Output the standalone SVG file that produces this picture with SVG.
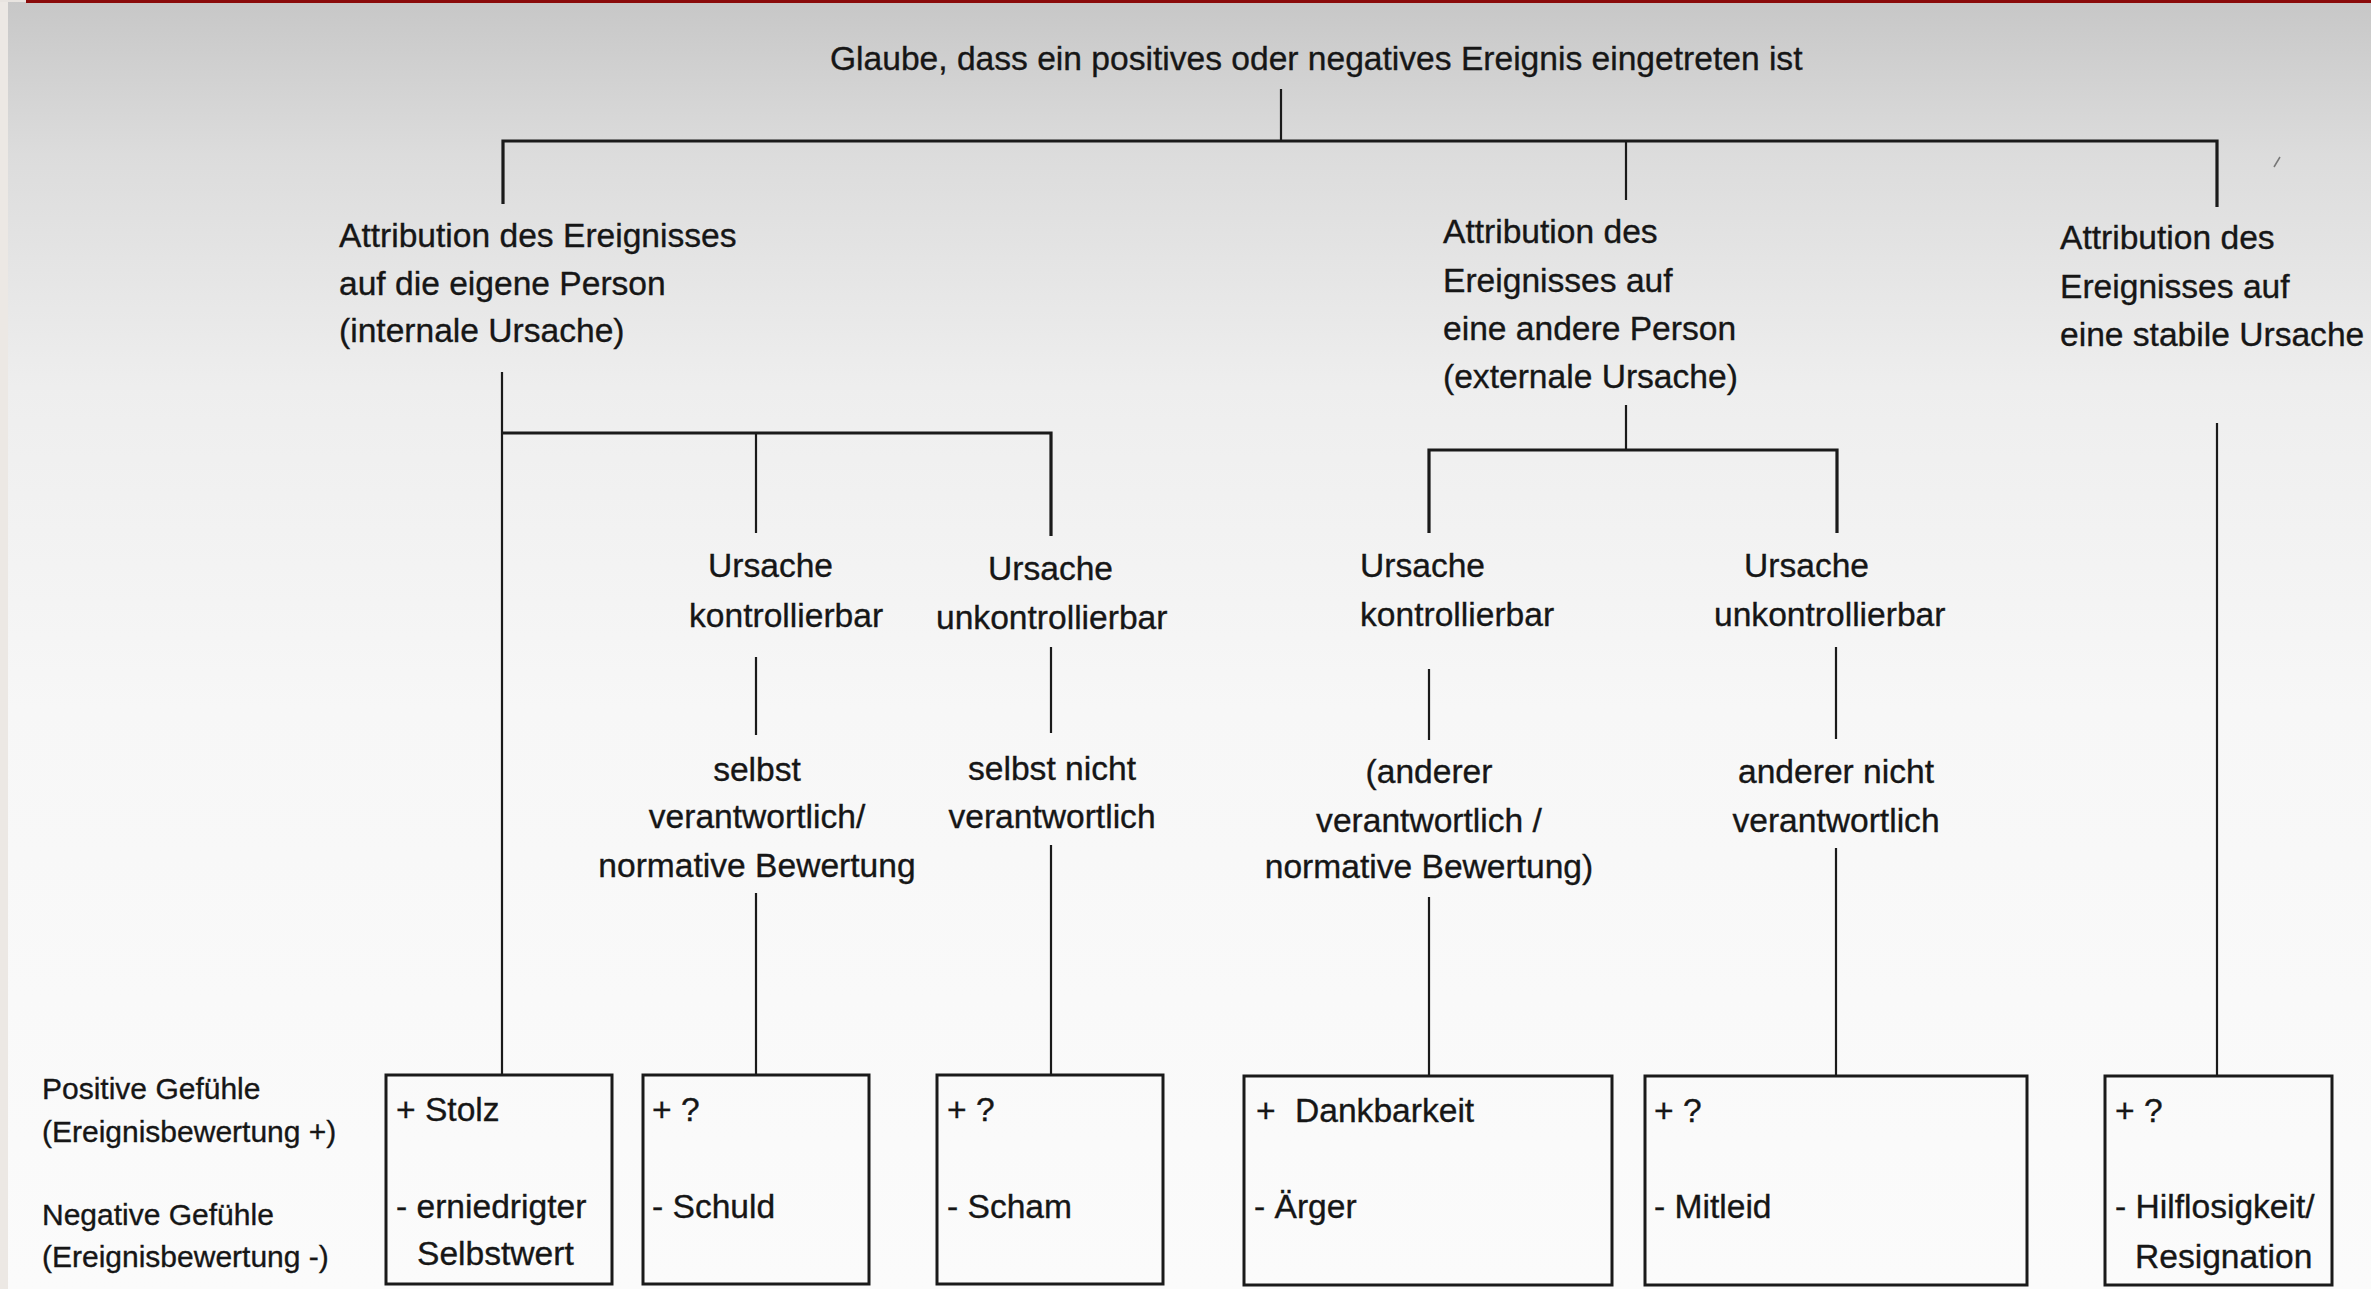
<svg xmlns="http://www.w3.org/2000/svg" width="2371" height="1289" viewBox="0 0 2371 1289">
<defs>
<linearGradient id="bg" x1="0" y1="0" x2="0" y2="1">
<stop offset="0" stop-color="#c7c7c7"/>
<stop offset="0.12" stop-color="#dcdcdc"/>
<stop offset="0.3" stop-color="#eeeeee"/>
<stop offset="0.55" stop-color="#f7f7f7"/>
<stop offset="1" stop-color="#fbfbfb"/>
</linearGradient>
<style>
text{font-family:"Liberation Sans",Arial,sans-serif;font-size:33.6px;fill:#161616;stroke:#161616;stroke-width:0.35}
.c{text-anchor:middle}
.s{font-size:30px}
.ln{stroke:#1a1a1a;stroke-width:2.2;fill:none}
.hl{stroke:#1a1a1a;stroke-width:3.2;fill:none}
.box{stroke:#1a1a1a;stroke-width:3;fill:none}
</style>
</defs>
<rect x="0" y="0" width="2371" height="1289" fill="url(#bg)"/>
<rect x="0" y="0" width="8" height="1289" fill="#ece8e4"/>
<rect x="0" y="0" width="26" height="2" fill="#e8e4e0"/>
<rect x="26" y="0" width="2345" height="3" fill="#8a0a0a"/>
<line x1="2274" y1="167" x2="2280" y2="157" stroke="#777" stroke-width="1.5"/>

<g id="connectors">
<line class="ln" x1="1281" y1="89" x2="1281" y2="141"/>
<polyline class="hl" points="503,204 503,141 2217,141 2217,207"/>
<line class="ln" x1="1626" y1="141" x2="1626" y2="200"/>
<line class="ln" x1="502" y1="372" x2="502" y2="1075"/>
<polyline class="hl" points="502,433 1051,433 1051,536"/>
<line class="ln" x1="756" y1="433" x2="756" y2="533"/>
<line class="ln" x1="756" y1="657" x2="756" y2="735"/>
<line class="ln" x1="1051" y1="647" x2="1051" y2="733"/>
<line class="ln" x1="756" y1="893" x2="756" y2="1075"/>
<line class="ln" x1="1051" y1="845" x2="1051" y2="1075"/>
<line class="ln" x1="1626" y1="405" x2="1626" y2="450"/>
<polyline class="hl" points="1429,533 1429,450 1837,450 1837,533"/>
<line class="ln" x1="1429" y1="669" x2="1429" y2="740"/>
<line class="ln" x1="1836" y1="647" x2="1836" y2="739"/>
<line class="ln" x1="1429" y1="897" x2="1429" y2="1076"/>
<line class="ln" x1="1836" y1="848" x2="1836" y2="1076"/>
<line class="ln" x1="2217" y1="423" x2="2217" y2="1076"/>
</g>

<g id="root"><text x="830" y="70">Glaube, dass ein positives oder negatives Ereignis eingetreten ist</text></g>

<g id="internal">
<text x="339" y="247">Attribution des Ereignisses</text>
<text x="339" y="295">auf die eigene Person</text>
<text x="339" y="342">(internale Ursache)</text>
</g>
<g id="external">
<text x="1443" y="243">Attribution des</text>
<text x="1443" y="292">Ereignisses auf</text>
<text x="1443" y="340">eine andere Person</text>
<text x="1443" y="388">(externale Ursache)</text>
</g>
<g id="stable">
<text x="2060" y="249">Attribution des</text>
<text x="2060" y="298">Ereignisses auf</text>
<text x="2060" y="346">eine stabile Ursache</text>
</g>

<g id="int-kontrollierbar">
<text x="708" y="577">Ursache</text>
<text x="689" y="627">kontrollierbar</text>
</g>
<g id="int-unkontrollierbar">
<text x="988" y="580">Ursache</text>
<text x="936" y="629">unkontrollierbar</text>
</g>
<g id="selbst-verantwortlich">
<text class="c" x="757" y="781">selbst</text>
<text class="c" x="757" y="828">verantwortlich/</text>
<text class="c" x="757" y="877">normative Bewertung</text>
</g>
<g id="selbst-nicht">
<text class="c" x="1052" y="780">selbst nicht</text>
<text class="c" x="1052" y="828">verantwortlich</text>
</g>

<g id="ext-kontrollierbar">
<text x="1360" y="577">Ursache</text>
<text x="1360" y="626">kontrollierbar</text>
</g>
<g id="ext-unkontrollierbar">
<text x="1744" y="577">Ursache</text>
<text x="1714" y="626">unkontrollierbar</text>
</g>
<g id="anderer-verantwortlich">
<text class="c" x="1429" y="783">(anderer</text>
<text class="c" x="1429" y="832">verantwortlich /</text>
<text class="c" x="1429" y="878">normative Bewertung)</text>
</g>
<g id="anderer-nicht">
<text class="c" x="1836" y="783">anderer nicht</text>
<text class="c" x="1836" y="832">verantwortlich</text>
</g>

<g id="legend">
<text class="s" x="42" y="1099">Positive Gefühle</text>
<text class="s" x="42" y="1142">(Ereignisbewertung +)</text>
<text class="s" x="42" y="1225">Negative Gefühle</text>
<text class="s" x="42" y="1267">(Ereignisbewertung -)</text>
</g>

<g id="box-stolz">
<rect class="box" x="386" y="1075" width="226" height="209"/>
<text x="396" y="1121">+ Stolz</text>
<text x="396" y="1218">- erniedrigter</text>
<text x="417" y="1265">Selbstwert</text>
</g>
<g id="box-schuld">
<rect class="box" x="643" y="1075" width="226" height="209"/>
<text x="652" y="1121">+ ?</text>
<text x="652" y="1218">- Schuld</text>
</g>
<g id="box-scham">
<rect class="box" x="937" y="1075" width="226" height="209"/>
<text x="947" y="1121">+ ?</text>
<text x="947" y="1218">- Scham</text>
</g>
<g id="box-dankbarkeit">
<rect class="box" x="1244" y="1076" width="368" height="209"/>
<text x="1256" y="1122">+</text>
<text x="1295" y="1122">Dankbarkeit</text>
<text x="1254" y="1218">- Ärger</text>
</g>
<g id="box-mitleid">
<rect class="box" x="1645" y="1076" width="382" height="209"/>
<text x="1654" y="1122">+ ?</text>
<text x="1654" y="1218">- Mitleid</text>
</g>
<g id="box-hilflosigkeit">
<rect class="box" x="2105" y="1076" width="227" height="209"/>
<text x="2115" y="1122">+ ?</text>
<text x="2115" y="1218">- Hilflosigkeit/</text>
<text x="2135" y="1268">Resignation</text>
</g>
</svg>
